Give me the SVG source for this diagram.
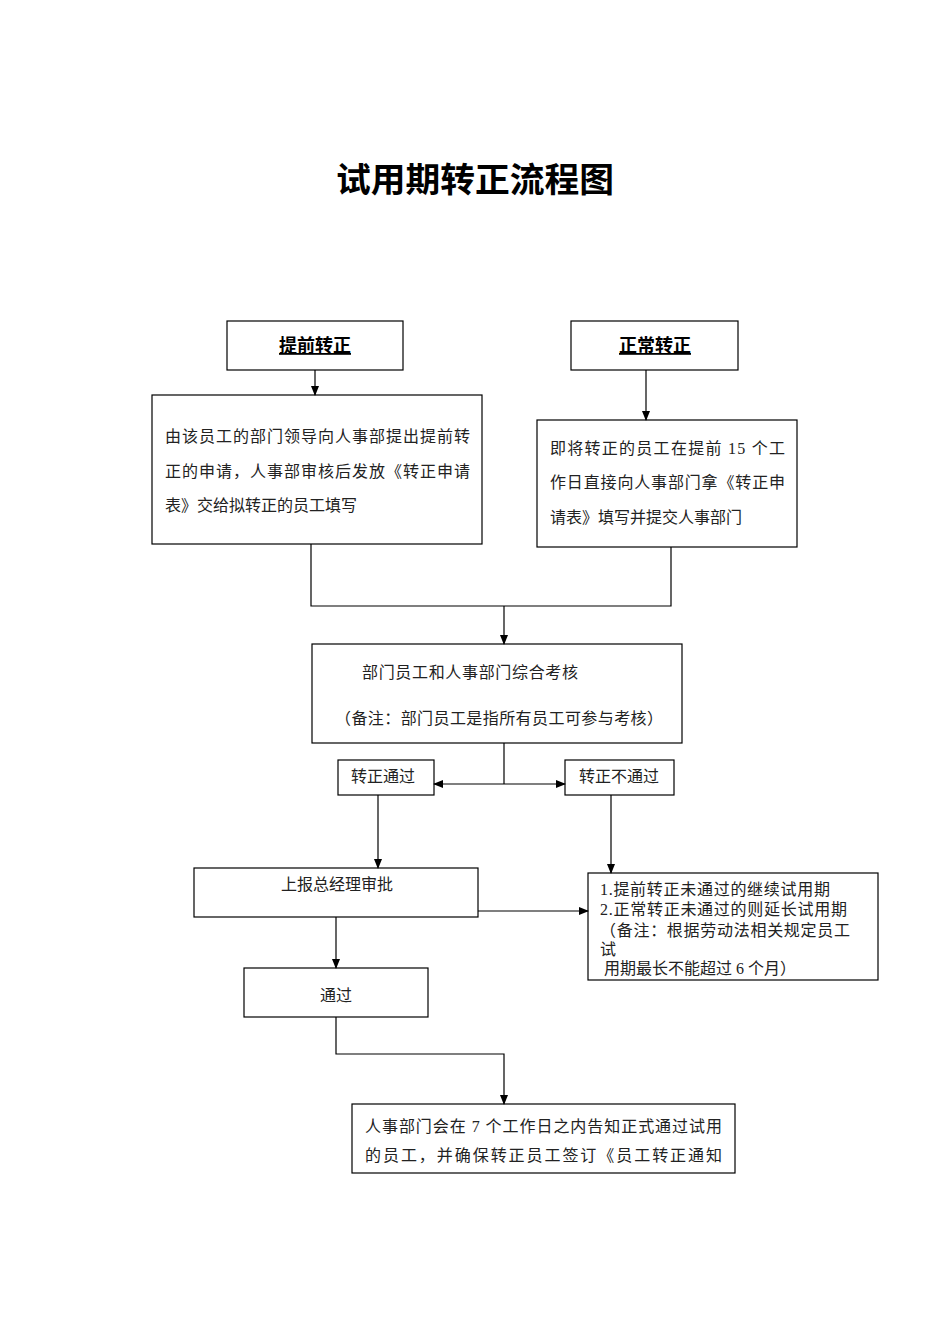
<svg xmlns="http://www.w3.org/2000/svg" width="950" height="1344" viewBox="0 0 950 1344">
<style>
.box{fill:#fff;stroke:#000;stroke-width:1.2}
.t{font-family:"Liberation Serif","Noto Sans CJK SC",serif;font-size:16px;fill:#222}
.h{font-family:"Liberation Sans","Noto Sans CJK SC",sans-serif;font-size:18px;font-weight:bold;text-decoration:underline;fill:#000}
.ln{fill:none;stroke:#000;stroke-width:1.2}
</style>
<defs>
<marker id="ar" markerWidth="10" markerHeight="10" refX="9" refY="5" orient="auto" markerUnits="userSpaceOnUse">
<path d="M0,1 L10,5 L0,9 Z" fill="#000"/>
</marker>
</defs>
<rect width="950" height="1344" fill="#fff"/>
<text x="475" y="192" text-anchor="middle" font-family="'Noto Sans CJK SC',sans-serif" font-size="34" font-weight="bold" textLength="278" lengthAdjust="spacingAndGlyphs">试用期转正流程图</text>

<g id="n-early">
<rect class="box" x="227" y="321" width="176" height="49"/>
<text class="h" x="315" y="352" text-anchor="middle">提前转正</text>
</g>
<g id="n-normal">
<rect class="box" x="571" y="321" width="167" height="49"/>
<text class="h" x="655" y="352" text-anchor="middle">正常转正</text>
</g>
<g id="n-a">
<rect class="box" x="152" y="395" width="330" height="149"/>
<text class="t" x="165" y="442" textLength="305">由该员工的部门领导向人事部提出提前转</text>
<text class="t" x="165" y="477" textLength="305">正的申请，人事部审核后发放《转正申请</text>
<text class="t" x="165" y="511">表》交给拟转正的员工填写</text>
</g>
<g id="n-b">
<rect class="box" x="537" y="420" width="260" height="127"/>
<text class="t" x="550" y="454" textLength="235">即将转正的员工在提前 15 个工</text>
<text class="t" x="550" y="488" textLength="235">作日直接向人事部门拿《转正申</text>
<text class="t" x="550" y="523">请表》填写并提交人事部门</text>
</g>
<g id="n-c">
<rect class="box" x="312" y="644" width="370" height="99"/>
<text class="t" x="362" y="678" textLength="216">部门员工和人事部门综合考核</text>
<text class="t" x="335" y="724" textLength="328">（备注：部门员工是指所有员工可参与考核）</text>
</g>
<g id="n-pass">
<rect class="box" x="338" y="760" width="96" height="35"/>
<text class="t" x="383" y="782" text-anchor="middle">转正通过</text>
</g>
<g id="n-fail">
<rect class="box" x="565" y="760" width="109" height="35"/>
<text class="t" x="619" y="782" text-anchor="middle">转正不通过</text>
</g>
<g id="n-gm">
<rect class="box" x="194" y="868" width="284" height="49"/>
<text class="t" x="337" y="890" text-anchor="middle">上报总经理审批</text>
</g>
<g id="n-note">
<rect class="box" x="588" y="873" width="290" height="107"/>
<text class="t" x="600" y="895" font-size="15" textLength="230">1.提前转正未通过的继续试用期</text>
<text class="t" x="600" y="915" font-size="15" textLength="247">2.正常转正未通过的则延长试用期</text>
<text class="t" x="600" y="936" font-size="15" textLength="250">（备注：根据劳动法相关规定员工</text>
<text class="t" x="600" y="955" font-size="15">试</text>
<text class="t" x="600" y="974" font-size="15" xml:space="preserve"> 用期最长不能超过 6 个月）</text>
</g>
<g id="n-ok">
<rect class="box" x="244" y="968" width="184" height="49"/>
<text class="t" x="336" y="1001" text-anchor="middle">通过</text>
</g>
<g id="n-final">
<rect class="box" x="352" y="1104" width="383" height="69"/>
<text class="t" x="365" y="1132" textLength="357">人事部门会在 7 个工作日之内告知正式通过试用</text>
<text class="t" x="365" y="1161" textLength="357">的员工，并确保转正员工签订《员工转正通知</text>
</g>

<g id="connectors">
<line class="ln" x1="315" y1="370" x2="315" y2="395" marker-end="url(#ar)"/>
<line class="ln" x1="646" y1="370" x2="646" y2="420" marker-end="url(#ar)"/>
<polyline class="ln" points="311,544 311,606 671,606 671,547"/>
<line class="ln" x1="504" y1="606" x2="504" y2="644" marker-end="url(#ar)"/>
<line class="ln" x1="504" y1="743" x2="504" y2="784"/>
<line class="ln" x1="504" y1="784" x2="434" y2="784" marker-end="url(#ar)"/>
<line class="ln" x1="504" y1="784" x2="565" y2="784" marker-end="url(#ar)"/>
<line class="ln" x1="378" y1="795" x2="378" y2="868" marker-end="url(#ar)"/>
<line class="ln" x1="611" y1="795" x2="611" y2="873" marker-end="url(#ar)"/>
<line class="ln" x1="478" y1="911" x2="588" y2="911" marker-end="url(#ar)"/>
<line class="ln" x1="336" y1="917" x2="336" y2="968" marker-end="url(#ar)"/>
<polyline class="ln" points="336,1017 336,1054 504,1054 504,1104" marker-end="url(#ar)"/>
</g>
</svg>
